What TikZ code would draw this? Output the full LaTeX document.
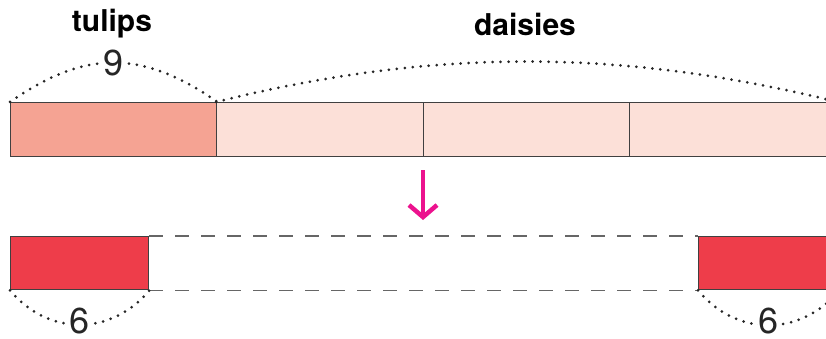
\documentclass[tikz,border=0pt]{standalone}
\usepackage{fontspec}
\setmainfont{TeX Gyre Heros}
\usetikzlibrary{arrows.meta}

\definecolor{tulipfill}{HTML}{F5A393}
\definecolor{daisyfill}{HTML}{FCE0D8}
\definecolor{redpart}{HTML}{EE3D4A}
\definecolor{arrowpink}{HTML}{EC128E}

\tikzset{
  bar/.style={draw=black!75, line width=1.4pt, inner sep=0, minimum height=54, anchor=north west},
  dotarc/.style={line width=3pt, line cap=round, dash pattern=on 0pt off 8pt, black!85},
  dashline/.style={draw=black!60, line width=1.3pt, dash pattern=on 14pt off 12pt},
  numlabel/.style={fill=white, inner sep=0.5pt, font=\fontsize{36}{38}\selectfont},
  title/.style={font=\bfseries\fontsize{30}{33}\selectfont}
}

\begin{document}
\begin{tikzpicture}[x=1pt,y=-1pt]
	\useasboundingbox (0,0) rectangle (826,339);
	\clip (0,0) rectangle (826,339);
	% upper bar
	\node[bar, fill=tulipfill, minimum width=206] (tulips) at (10,102) {};
	\node[bar, fill=daisyfill, minimum width=207] (d1) at (216,102) {};
	\node[bar, fill=daisyfill, minimum width=206] (d2) at (423,102) {};
	\node[bar, fill=daisyfill, minimum width=207] (d3) at (629,102) {};
	\node[title] (tlab) at (112,24) {tulips};
	\node[title] (dlab) at (525,24) {daisies};
	\draw[dotarc] (tulips.north west) to[out=35,in=145,looseness=1.13]
		node[numlabel, pos=0.5] (nine) {9} (tulips.north east);
	\draw[dotarc] (d1.north west) to[out=14,in=166,looseness=0.92] (d3.north east);
	% arrow
	\coordinate (arrtop) at (423,170);
	\coordinate (arrbot) at (423,220);
	\draw[arrowpink, line width=4.5pt, -{Straight Barb[length=12pt,width=28pt]}] (arrtop) -- (arrbot);
	% lower bar
	\node[bar, fill=redpart, minimum width=138, minimum height=53] (left) at (10,236) {};
	\node[bar, fill=redpart, minimum width=140, minimum height=53] (right) at (698,236) {};
	\draw[dashline] (left.north east) -- (right.north west);
	\draw[dashline] (left.south east) -- (right.south west);
	\draw[dotarc] (left.south west) to[out=-50,in=-130,looseness=1.1]
		node[numlabel, pos=0.5, yshift=4] (sixl) {6} (left.south east);
	\draw[dotarc] (right.south west) to[out=-50,in=-130,looseness=1.1]
		node[numlabel, pos=0.5, yshift=4] (sixr) {6} (right.south east);
\end{tikzpicture}
\end{document}
